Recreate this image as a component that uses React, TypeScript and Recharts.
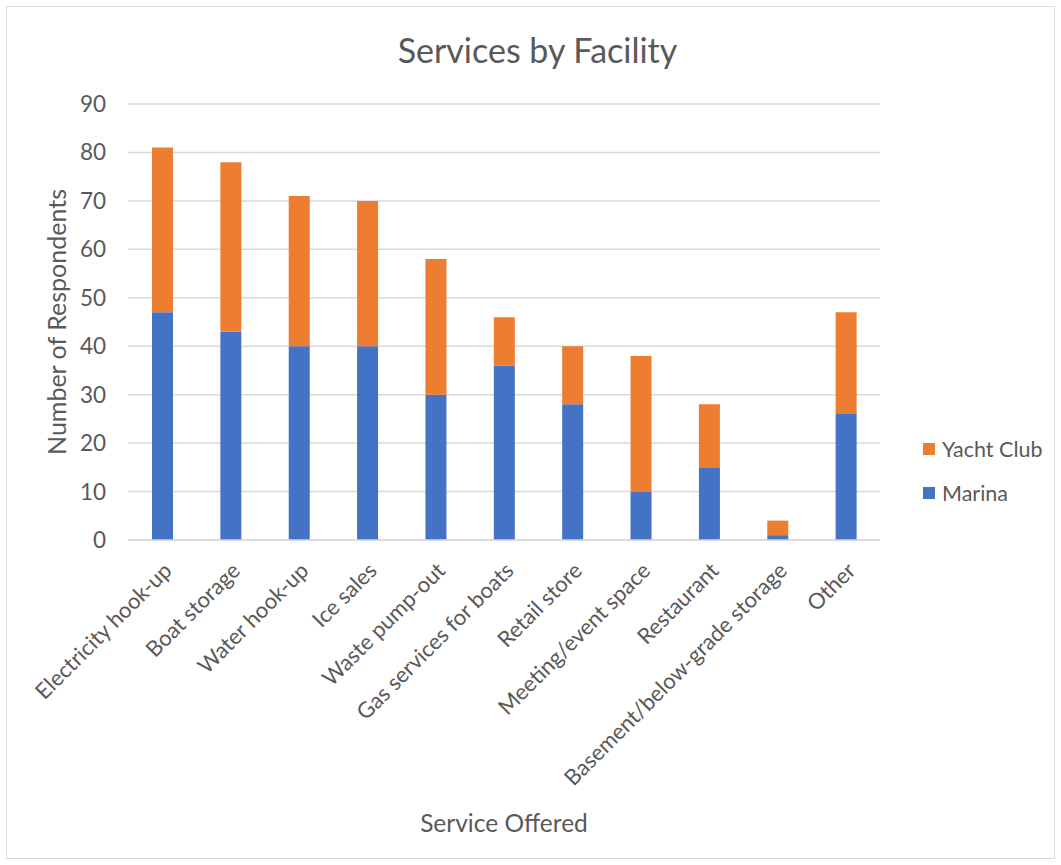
import { BarChart, Bar, XAxis, YAxis, CartesianGrid, Label } from "recharts";

const services = [
  "Electricity hook-up",
  "Boat storage",
  "Water hook-up",
  "Ice sales",
  "Waste pump-out",
  "Gas services for boats",
  "Retail store",
  "Meeting/event space",
  "Restaurant",
  "Basement/below-grade storage",
  "Other",
];
const marina = [47, 43, 40, 40, 30, 36, 28, 10, 15, 1, 26];
const yachtClub = [34, 35, 31, 30, 28, 10, 12, 28, 13, 3, 21];
const yTicks = [0, 10, 20, 30, 40, 50, 60, 70, 80, 90];

const data = services.map((s, i) => ({ service: s, Marina: marina[i], "Yacht Club": yachtClub[i] }));

const FONT = "Lato, 'Open Sans', sans-serif";
const TEXT = "#595959";

// legend stacks Yacht Club above Marina, like the stack
function LegendBox() {
  const items = [
    { name: "Yacht Club", color: "#ed7d31" },
    { name: "Marina", color: "#4472c4" },
  ];
  return (
    <div style={{ position: "absolute", left: 916, top: 420, fontFamily: FONT }}>
      {items.map((it) => (
        <div key={it.name} style={{ display: "flex", alignItems: "center", height: 44 }}>
          <span style={{ width: 12, height: 12, background: it.color, marginRight: 7 }} />
          <span style={{ fontSize: 21.5, color: TEXT }}>{it.name}</span>
        </div>
      ))}
    </div>
  );
}

export default function App() {
  return (
    <div
      style={{
        position: "absolute",
        left: 6,
        top: 6,
        width: 1049,
        height: 853,
        border: "1px solid #d9d9d9",
        background: "#fff",
        boxSizing: "border-box",
      }}
    >
      <div
        style={{
          position: "absolute",
          top: 22,
          left: 7,
          width: "100%",
          textAlign: "center",
          fontFamily: FONT,
          fontSize: 34,
          color: TEXT,
        }}
      >
        Services by Facility
      </div>
      <BarChart
        width={1047}
        height={851}
        data={data}
        margin={{ top: 97, right: 174, bottom: 0, left: 41 }}
        barSize={21}
      >
        <CartesianGrid vertical={false} stroke="#d9d9d9" strokeWidth={1.5} />
        <XAxis
          dataKey="service"
          interval={0}
          angle={-45}
          textAnchor="end"
          height={318}
          tickLine={false}
          axisLine={{ stroke: "#d9d9d9", strokeWidth: 1.5 }}
          tick={{ fontSize: 22, fill: TEXT, fontFamily: FONT }}
          tickMargin={15}
        >
          <Label
            value="Service Offered"
            position="insideBottom"
            offset={26}
            style={{ fontSize: 24.5, fill: TEXT, fontFamily: FONT }}
          />
        </XAxis>
        <YAxis
          width={80}
          domain={[0, 90]}
          ticks={yTicks}
          tickLine={false}
          axisLine={false}
          tickSize={0}
          tickMargin={22}
          tick={{ fontSize: 22.5, fill: TEXT, fontFamily: FONT }}
        >
          <Label
            value="Number of Respondents"
            angle={-90}
            position="center"
            dx={-31}
            style={{ fontSize: 25, fill: TEXT, fontFamily: FONT, textAnchor: "middle" }}
          />
        </YAxis>
        <Bar dataKey="Marina" stackId="a" fill="#4472c4" isAnimationActive={false} />
        <Bar dataKey="Yacht Club" stackId="a" fill="#ed7d31" isAnimationActive={false} />
      </BarChart>
      <LegendBox />
    </div>
  );
}
